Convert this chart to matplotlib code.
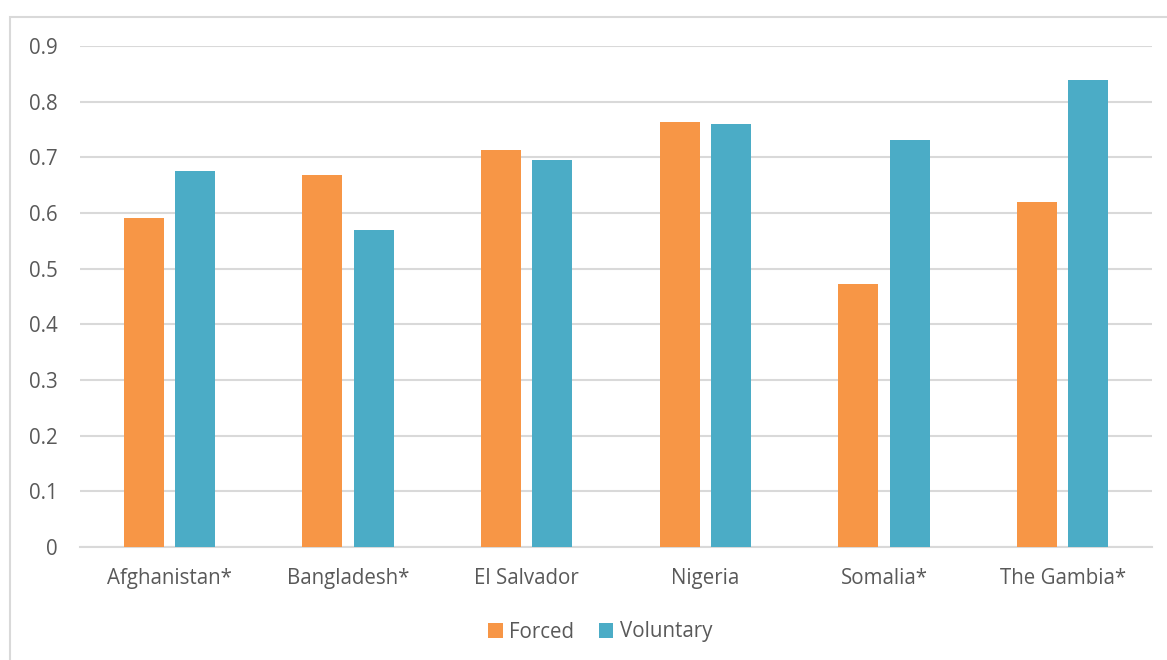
import matplotlib
matplotlib.use("Agg")
import matplotlib.pyplot as plt
import numpy as np
from matplotlib.patches import Rectangle

categories = ["Afghanistan*", "Bangladesh*", "El Salvador", "Nigeria", "Somalia*", "The Gambia*"]
forced = [0.591, 0.669, 0.714, 0.764, 0.473, 0.620]
voluntary = [0.676, 0.569, 0.695, 0.759, 0.731, 0.839]
yticks = [0, 0.1, 0.2, 0.3, 0.4, 0.5, 0.6, 0.7, 0.8, 0.9]
ytick_labels = ["0", "0.1", "0.2", "0.3", "0.4", "0.5", "0.6", "0.7", "0.8", "0.9"]

plt.rcParams['font.family'] = ['Open Sans', 'DejaVu Sans']
text_color = "#595959"
grid_color = "#D9D9D9"
c_forced = "#F79646"
c_vol = "#4BACC6"

W, H = 1167, 660
fig = plt.figure(figsize=(W/100, H/100), dpi=100)
fig.patches.append(Rectangle((10/W, -0.1), 1.2, 1 - 17/H + 0.1, transform=fig.transFigure,
                             fill=False, edgecolor=grid_color, linewidth=1.5))

ax = fig.add_axes([80/W, 1 - 547/H, (1152-80)/W, (547-46)/H])
x = np.arange(len(categories))
bw = 0.224
off = 0.143
ax.bar(x - off, forced, bw, color=c_forced, label="Forced", zorder=3)
ax.bar(x + off, voluntary, bw, color=c_vol, label="Voluntary", zorder=3)

ax.set_xlim(-0.5, len(categories) - 0.5)
ax.set_ylim(0, 0.9)
ax.set_yticks(yticks)
ax.set_yticklabels(ytick_labels)
ax.set_xticks(x)
ax.set_xticklabels(categories)
ax.yaxis.grid(True, color=grid_color, linewidth=1.5, zorder=0)
ax.set_axisbelow(True)
for s in ["top", "right", "left"]:
    ax.spines[s].set_visible(False)
ax.spines["bottom"].set_color(grid_color)
ax.spines["bottom"].set_linewidth(1.5)
ax.tick_params(axis="both", length=0, labelsize=14.8, colors=text_color)
ax.tick_params(axis="y", pad=16)
ax.tick_params(axis="x", pad=15)

leg = fig.legend(loc="center", bbox_to_anchor=(600/W, 1 - 632/H), ncol=2, frameon=False,
                 fontsize=14.8, handlelength=0.72, handleheight=0.72, handletextpad=0.3,
                 columnspacing=1.2)
for t in leg.get_texts():
    t.set_color(text_color)

fig.savefig("out.png", dpi=100)
